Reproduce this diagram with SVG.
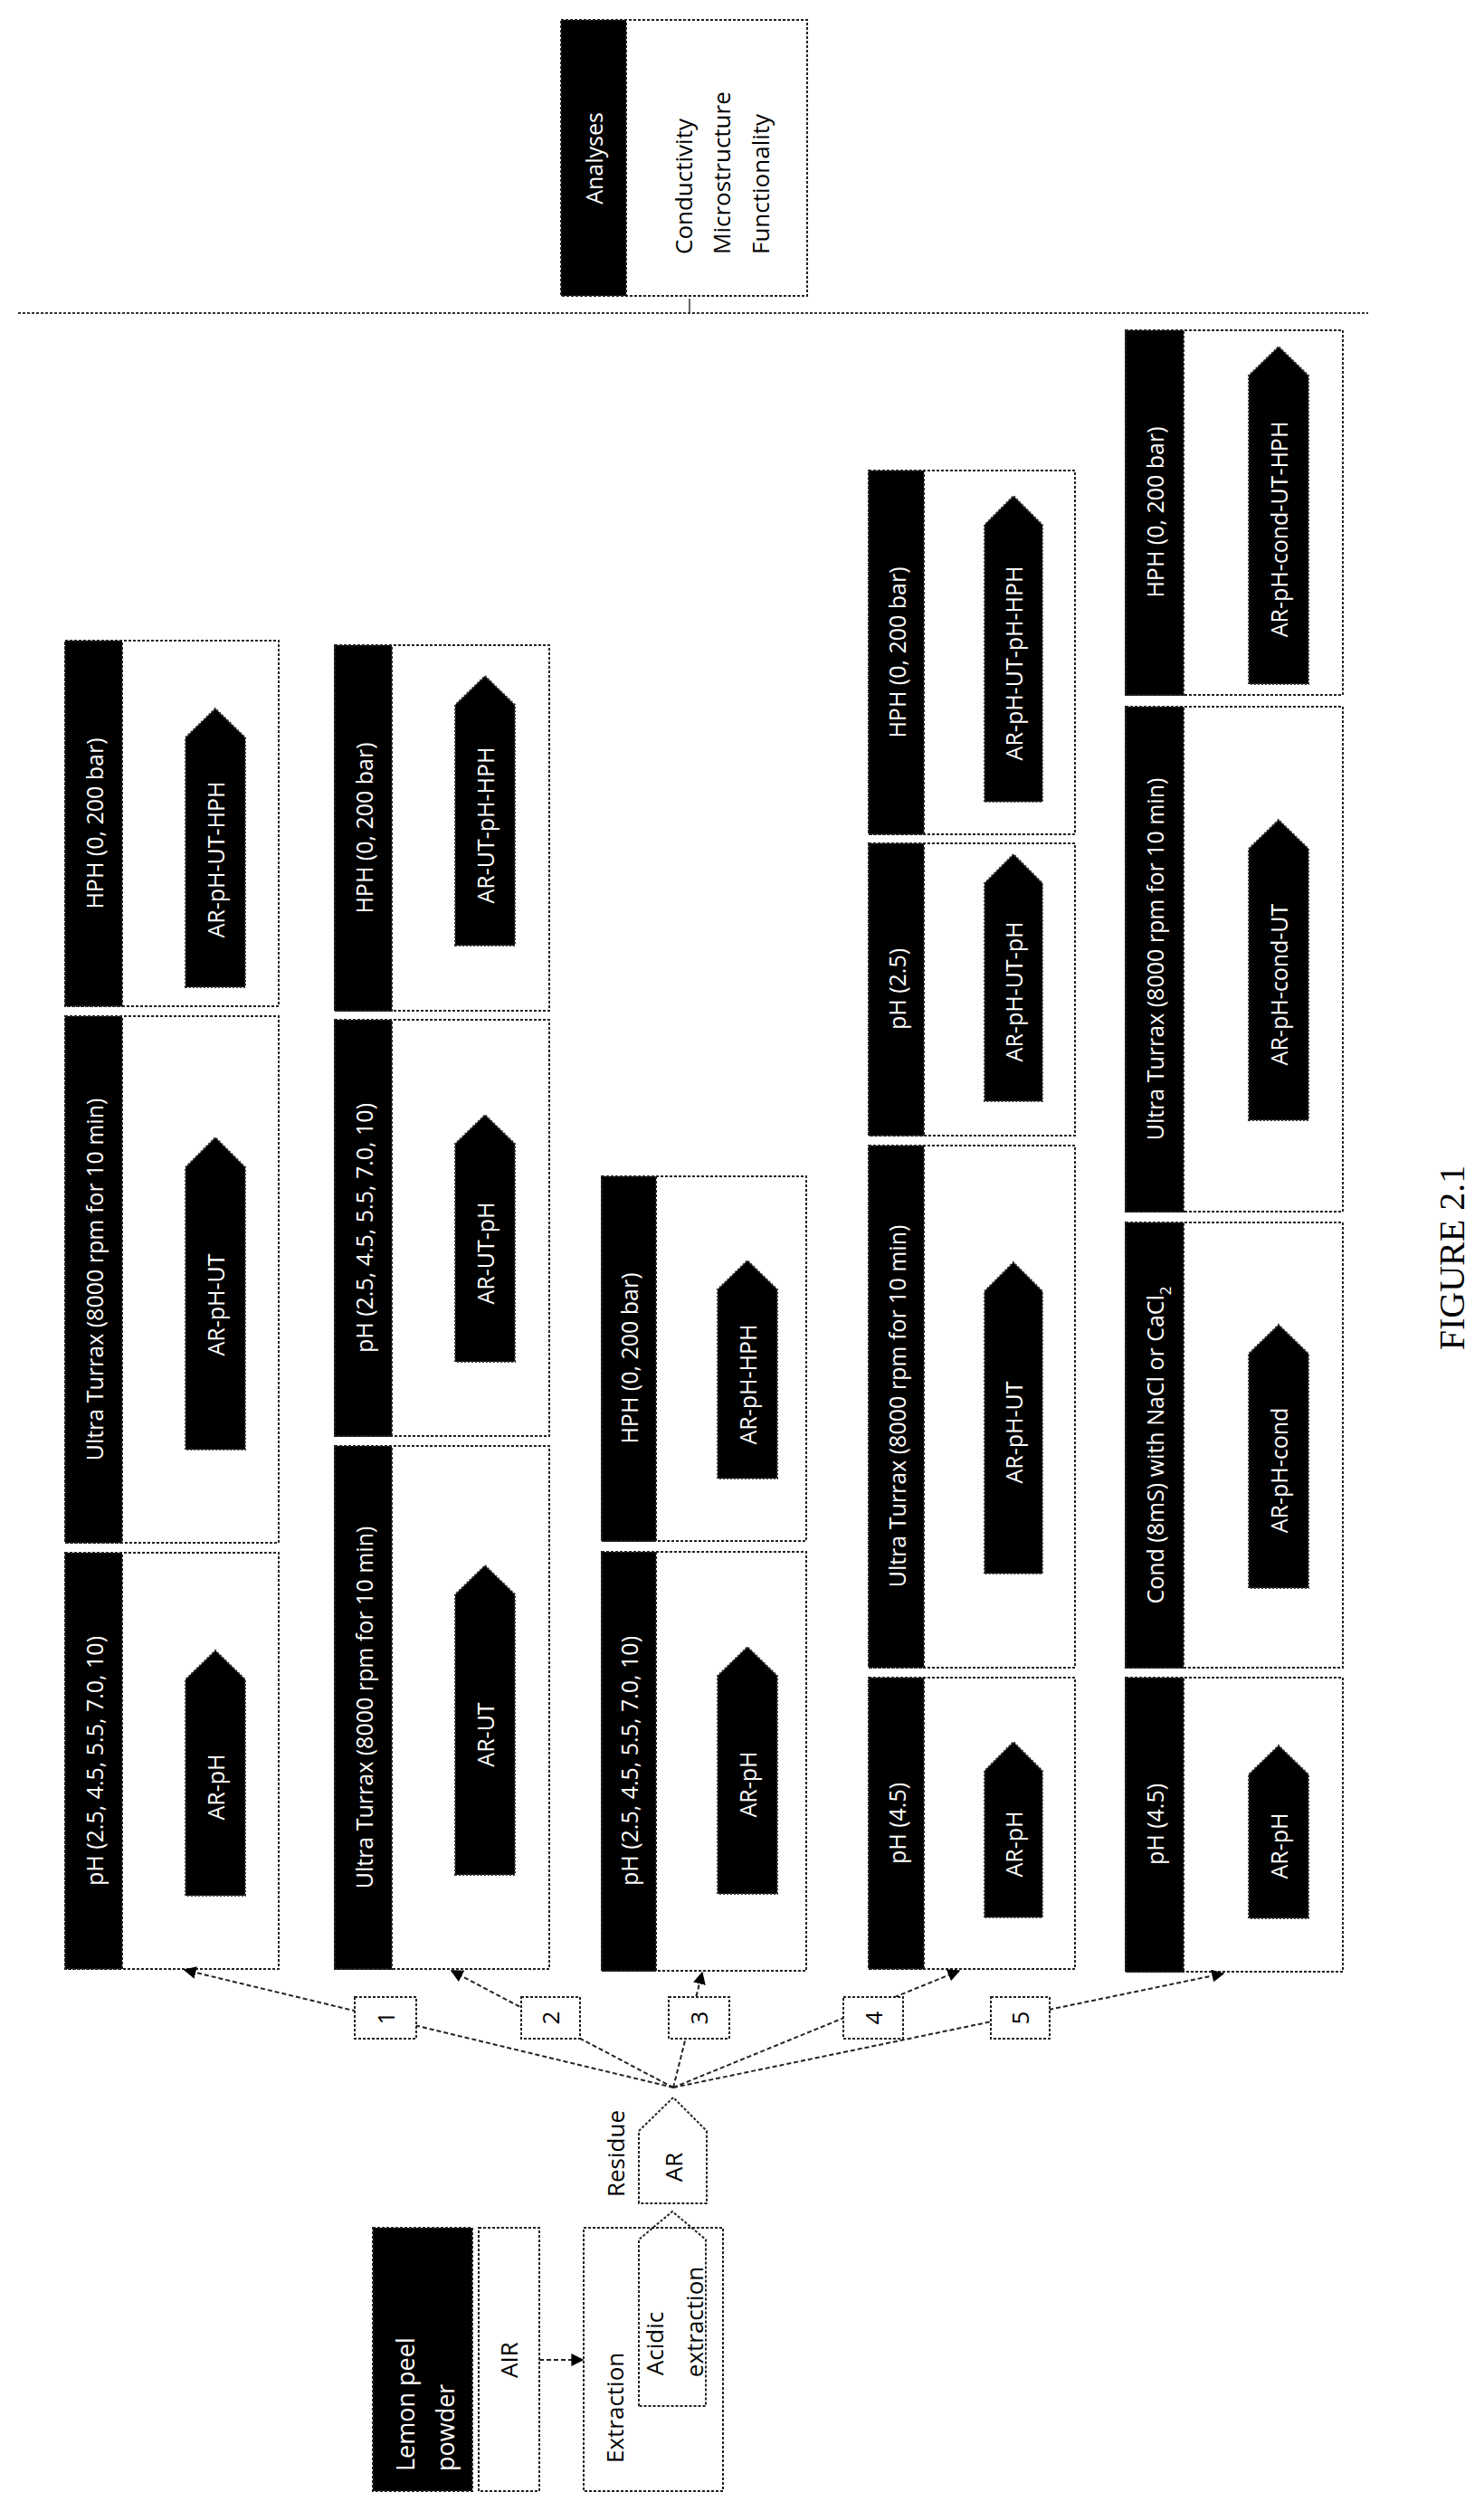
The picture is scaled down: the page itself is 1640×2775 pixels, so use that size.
<svg xmlns="http://www.w3.org/2000/svg" width="1640" height="2775" viewBox="0 0 1640 2775">
<style>
.box{fill:#fff;stroke:#222;stroke-width:2;stroke-dasharray:3 2}
.bar{fill:#000;stroke:#222;stroke-width:2;stroke-dasharray:3 2}
.arr{fill:#000;stroke:#333;stroke-width:2;stroke-dasharray:2 2}
.wt{fill:#fff;font-family:"Open Sans","Liberation Sans",sans-serif;font-size:25px;text-anchor:middle;dominant-baseline:central}
.bt{fill:#000;font-family:"Open Sans","Liberation Sans",sans-serif;font-size:26px;text-anchor:middle;dominant-baseline:central}
.con{fill:none;stroke:#222;stroke-width:2;stroke-dasharray:5 3}
</style>
<defs>
<marker id="ah" viewBox="0 0 10 10" refX="9" refY="5" markerWidth="7" markerHeight="7" orient="auto-start-reverse"><path d="M0,0 L10,5 L0,10 z" fill="#000"/></marker>
</defs>

<g id="analyses">
<rect class="box" x="620" y="22" width="272" height="305"/>
<rect class="bar" x="620" y="22" width="72" height="305"/>
<text class="wt" transform="translate(656,175) rotate(-90)">Analyses</text>
<text class="bt" style="text-anchor:start" transform="translate(755,281) rotate(-90)">Conductivity</text>
<text class="bt" style="text-anchor:start" transform="translate(797,281) rotate(-90)">Microstructure</text>
<text class="bt" style="text-anchor:start" transform="translate(840,281) rotate(-90)">Functionality</text>
</g>
<g id="divider">
<line x1="20" y1="346" x2="1512" y2="346" stroke="#333" stroke-width="2" stroke-dasharray="3 2"/>
<line x1="762" y1="330" x2="762" y2="346" stroke="#333" stroke-width="1.5"/>
</g>

<!-- Column 1 -->
<g id="c1-hph"><rect class="box" x="72" y="708" width="236" height="404"/><rect class="bar" x="72" y="708" width="63" height="404"/>
<text class="wt" transform="translate(104,910) rotate(-90)">HPH (0, 200 bar)</text>
<path class="arr" d="M205,1091 V815 L238,783 L271,815 V1091 Z"/><text class="wt" transform="translate(238,950) rotate(-90)">AR-pH-UT-HPH</text></g>
<g id="c1-ut"><rect class="box" x="72" y="1123" width="236" height="582"/><rect class="bar" x="72" y="1123" width="63" height="582"/>
<text class="wt" transform="translate(104,1414) rotate(-90)">Ultra Turrax (8000 rpm for 10 min)</text>
<path class="arr" d="M205,1602 V1290 L238,1257 L271,1290 V1602 Z"/><text class="wt" transform="translate(238,1442) rotate(-90)">AR-pH-UT</text></g>
<g id="c1-ph"><rect class="box" x="72" y="1716" width="236" height="460"/><rect class="bar" x="72" y="1716" width="63" height="460"/>
<text class="wt" transform="translate(104,1946) rotate(-90)">pH (2.5, 4.5, 5.5, 7.0, 10)</text>
<path class="arr" d="M205,2095 V1856 L238,1824 L271,1856 V2095 Z"/><text class="wt" transform="translate(238,1975) rotate(-90)">AR-pH</text></g>

<!-- Column 2 -->
<g id="c2-hph"><rect class="box" x="370" y="713" width="237" height="404"/><rect class="bar" x="370" y="713" width="63" height="404"/>
<text class="wt" transform="translate(402,915) rotate(-90)">HPH (0, 200 bar)</text>
<path class="arr" d="M503,1045 V779 L536,747 L569,779 V1045 Z"/><text class="wt" transform="translate(536,912) rotate(-90)">AR-UT-pH-HPH</text></g>
<g id="c2-ph"><rect class="box" x="370" y="1127" width="237" height="460"/><rect class="bar" x="370" y="1127" width="63" height="460"/>
<text class="wt" transform="translate(402,1357) rotate(-90)">pH (2.5, 4.5, 5.5, 7.0, 10)</text>
<path class="arr" d="M503,1505 V1264 L536,1232 L569,1264 V1505 Z"/><text class="wt" transform="translate(536,1385) rotate(-90)">AR-UT-pH</text></g>
<g id="c2-ut"><rect class="box" x="370" y="1598" width="237" height="578"/><rect class="bar" x="370" y="1598" width="63" height="578"/>
<text class="wt" transform="translate(402,1887) rotate(-90)">Ultra Turrax (8000 rpm for 10 min)</text>
<path class="arr" d="M503,2072 V1762 L536,1730 L569,1762 V2072 Z"/><text class="wt" transform="translate(536,1917) rotate(-90)">AR-UT</text></g>

<!-- Column 3 -->
<g id="c3-hph"><rect class="box" x="665" y="1300" width="226" height="403"/><rect class="bar" x="665" y="1300" width="60" height="403"/>
<text class="wt" transform="translate(695,1501) rotate(-90)">HPH (0, 200 bar)</text>
<path class="arr" d="M793,1634 V1425 L826,1393 L859,1425 V1634 Z"/><text class="wt" transform="translate(826,1530) rotate(-90)">AR-pH-HPH</text></g>
<g id="c3-ph"><rect class="box" x="665" y="1715" width="226" height="463"/><rect class="bar" x="665" y="1715" width="60" height="463"/>
<text class="wt" transform="translate(695,1946) rotate(-90)">pH (2.5, 4.5, 5.5, 7.0, 10)</text>
<path class="arr" d="M793,2093 V1852 L826,1820 L859,1852 V2093 Z"/><text class="wt" transform="translate(826,1972) rotate(-90)">AR-pH</text></g>

<!-- Column 4 -->
<g id="c4-hph"><rect class="box" x="960" y="520" width="228" height="402"/><rect class="bar" x="960" y="520" width="61" height="402"/>
<text class="wt" transform="translate(991,721) rotate(-90)">HPH (0, 200 bar)</text>
<path class="arr" d="M1088,886 V580 L1120,548 L1152,580 V886 Z"/><text class="wt" transform="translate(1120,733) rotate(-90)">AR-pH-UT-pH-HPH</text></g>
<g id="c4-ph25"><rect class="box" x="960" y="932" width="228" height="323"/><rect class="bar" x="960" y="932" width="61" height="323"/>
<text class="wt" transform="translate(991,1093) rotate(-90)">pH (2.5)</text>
<path class="arr" d="M1088,1217 V976 L1120,944 L1152,976 V1217 Z"/><text class="wt" transform="translate(1120,1096) rotate(-90)">AR-pH-UT-pH</text></g>
<g id="c4-ut"><rect class="box" x="960" y="1266" width="228" height="577"/><rect class="bar" x="960" y="1266" width="61" height="577"/>
<text class="wt" transform="translate(991,1554) rotate(-90)">Ultra Turrax (8000 rpm for 10 min)</text>
<path class="arr" d="M1088,1739 V1427 L1120,1395 L1152,1427 V1739 Z"/><text class="wt" transform="translate(1120,1583) rotate(-90)">AR-pH-UT</text></g>
<g id="c4-ph45"><rect class="box" x="960" y="1854" width="228" height="322"/><rect class="bar" x="960" y="1854" width="61" height="322"/>
<text class="wt" transform="translate(991,2015) rotate(-90)">pH (4.5)</text>
<path class="arr" d="M1088,2119 V1957 L1120,1925 L1152,1957 V2119 Z"/><text class="wt" transform="translate(1120,2038) rotate(-90)">AR-pH</text></g>

<!-- Column 5 -->
<g id="c5-hph"><rect class="box" x="1244" y="365" width="240" height="403"/><rect class="bar" x="1244" y="365" width="64" height="403"/>
<text class="wt" transform="translate(1276,566) rotate(-90)">HPH (0, 200 bar)</text>
<path class="arr" d="M1380,756 V415 L1413,383 L1446,415 V756 Z"/><text class="wt" transform="translate(1413,585) rotate(-90)">AR-pH-cond-UT-HPH</text></g>
<g id="c5-ut"><rect class="box" x="1244" y="781" width="240" height="558"/><rect class="bar" x="1244" y="781" width="64" height="558"/>
<text class="wt" transform="translate(1276,1060) rotate(-90)">Ultra Turrax (8000 rpm for 10 min)</text>
<path class="arr" d="M1380,1238 V938 L1413,906 L1446,938 V1238 Z"/><text class="wt" transform="translate(1413,1088) rotate(-90)">AR-pH-cond-UT</text></g>
<g id="c5-cond"><rect class="box" x="1244" y="1351" width="240" height="492"/><rect class="bar" x="1244" y="1351" width="64" height="492"/>
<text class="wt" transform="translate(1276,1597) rotate(-90)">Cond (8mS) with NaCl or CaCl<tspan baseline-shift="sub" font-size="17">2</tspan></text>
<path class="arr" d="M1380,1755 V1496 L1413,1464 L1446,1496 V1755 Z"/><text class="wt" transform="translate(1413,1625) rotate(-90)">AR-pH-cond</text></g>
<g id="c5-ph45"><rect class="box" x="1244" y="1854" width="240" height="325"/><rect class="bar" x="1244" y="1854" width="64" height="325"/>
<text class="wt" transform="translate(1276,2016) rotate(-90)">pH (4.5)</text>
<path class="arr" d="M1380,2120 V1961 L1413,1929 L1446,1961 V2120 Z"/><text class="wt" transform="translate(1413,2040) rotate(-90)">AR-pH</text></g>

<!-- connectors -->
<g id="connectors">
<line class="con" x1="744" y1="2307" x2="204" y2="2177" marker-end="url(#ah)"/>
<line class="con" x1="744" y1="2307" x2="499" y2="2178" marker-end="url(#ah)"/>
<line class="con" x1="744" y1="2307" x2="776" y2="2180" marker-end="url(#ah)"/>
<line class="con" x1="744" y1="2307" x2="1060" y2="2178" marker-end="url(#ah)"/>
<line class="con" x1="744" y1="2307" x2="1352" y2="2181" marker-end="url(#ah)"/>
<line class="con" x1="596" y1="2608" x2="644" y2="2608" marker-end="url(#ah)"/>
</g>

<g id="n1"><rect class="box" x="392" y="2207" width="68" height="46"/><text class="bt" transform="translate(426,2230) rotate(-90)">1</text></g>
<g id="n2"><rect class="box" x="576" y="2207" width="65" height="46"/><text class="bt" transform="translate(608,2230) rotate(-90)">2</text></g>
<g id="n3"><rect class="box" x="739" y="2207" width="67" height="46"/><text class="bt" transform="translate(772,2230) rotate(-90)">3</text></g>
<g id="n4"><rect class="box" x="932" y="2207" width="66" height="46"/><text class="bt" transform="translate(965,2230) rotate(-90)">4</text></g>
<g id="n5"><rect class="box" x="1095" y="2207" width="65" height="46"/><text class="bt" transform="translate(1127,2230) rotate(-90)">5</text></g>

<g id="ar">
<path class="box" d="M706,2435 V2355 L744,2318 L781,2355 V2435 Z"/>
<text class="bt" transform="translate(744,2395) rotate(-90)">AR</text>
<text class="bt" transform="translate(680,2380) rotate(-90)">Residue</text>
</g>

<g id="lemon">
<rect class="bar" x="412" y="2462" width="110" height="291"/>
<text class="wt" style="font-size:27px;text-anchor:start" transform="translate(447,2731) rotate(-90)">Lemon peel</text>
<text class="wt" style="font-size:27px;text-anchor:start" transform="translate(491,2731) rotate(-90)">powder</text>
</g>
<g id="air"><rect class="box" x="529" y="2462" width="67" height="291"/><text class="bt" transform="translate(562,2608) rotate(-90)">AIR</text></g>
<g id="extraction">
<rect class="box" x="645" y="2462" width="154" height="291"/>
<text class="bt" style="text-anchor:start" transform="translate(679,2722) rotate(-90)">Extraction</text>
<path class="box" d="M706,2659 V2475 L743,2444 L780,2475 V2659 Z" style="fill:none"/>
<text class="bt" transform="translate(723,2590) rotate(-90)">Acidic</text>
<text class="bt" transform="translate(767,2566) rotate(-90)">extraction</text>
</g>

<text id="figure" x="0" y="0" transform="translate(1604,1390) rotate(-90)" font-family="'Liberation Serif',serif" font-size="40" text-anchor="middle" dominant-baseline="central">FIGURE 2.1</text>
</svg>
